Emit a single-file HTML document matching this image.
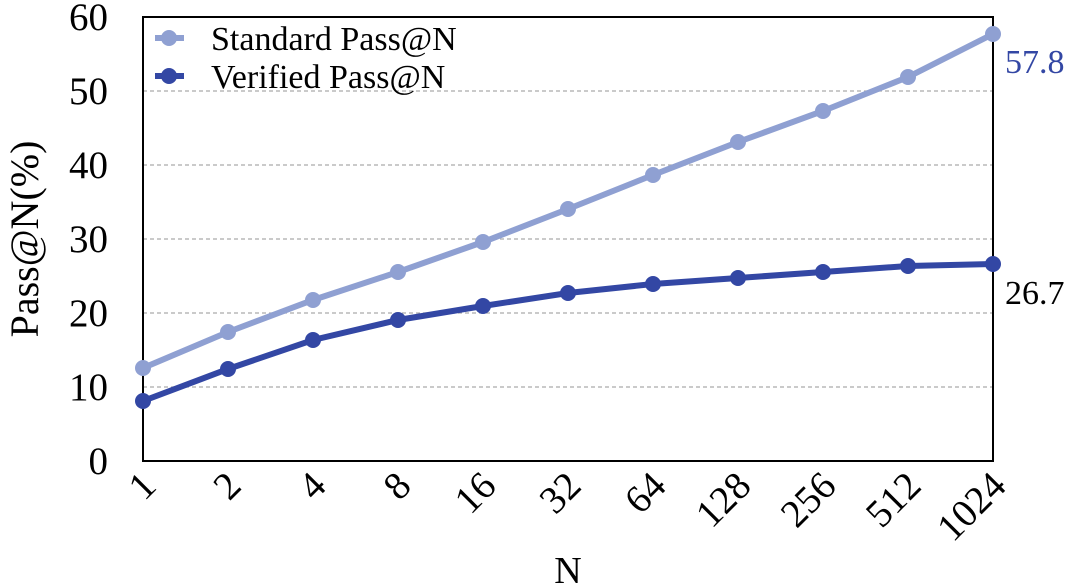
<!DOCTYPE html><html><head><style>body{margin:0;background:#fff}</style></head><body>
<svg width="1069" height="583" xmlns="http://www.w3.org/2000/svg" font-family="Liberation Serif, serif">
<g stroke="#aaa" stroke-width="1.2" stroke-dasharray="4,3">
<line x1="143" x2="993" y1="387" y2="387"/><line x1="143" x2="993" y1="313" y2="313"/><line x1="143" x2="993" y1="239" y2="239"/><line x1="143" x2="993" y1="165" y2="165"/><line x1="143" x2="993" y1="91" y2="91"/></g>
<rect x="143" y="17" width="850" height="444" fill="none" stroke="#000" stroke-width="2"/>
<g font-size="39" text-anchor="end" fill="#000">
<text x="108" y="474">0</text><text x="108" y="400">10</text><text x="108" y="326">20</text><text x="108" y="252">30</text><text x="108" y="178">40</text><text x="108" y="104">50</text><text x="108" y="30">60</text></g>
<text transform="translate(38,239) rotate(-90)" font-size="40" text-anchor="middle">Pass@N(%)</text>
<g font-size="39" text-anchor="end">
<text transform="translate(158,488) rotate(-45)">1</text><text transform="translate(243,488) rotate(-45)">2</text><text transform="translate(328,488) rotate(-45)">4</text><text transform="translate(413,488) rotate(-45)">8</text><text transform="translate(498,488) rotate(-45)">16</text><text transform="translate(583,488) rotate(-45)">32</text><text transform="translate(668,488) rotate(-45)">64</text><text transform="translate(753,488) rotate(-45)">128</text><text transform="translate(838,488) rotate(-45)">256</text><text transform="translate(923,488) rotate(-45)">512</text><text transform="translate(1008,488) rotate(-45)">1024</text></g>
<text x="568" y="583" font-size="38" text-anchor="middle">N</text>
<g stroke="#8fa0d2" fill="#8fa0d2" stroke-width="6">
<polyline fill="none" points="143,368 228,332 313,300 398,272 483,242 568,209 653,175 738,142 823,111 908,77 993,34"/>
<g stroke="none"><circle cx="143" cy="368" r="8"/><circle cx="228" cy="332" r="8"/><circle cx="313" cy="300" r="8"/><circle cx="398" cy="272" r="8"/><circle cx="483" cy="242" r="8"/><circle cx="568" cy="209" r="8"/><circle cx="653" cy="175" r="8"/><circle cx="738" cy="142" r="8"/><circle cx="823" cy="111" r="8"/><circle cx="908" cy="77" r="8"/><circle cx="993" cy="34" r="8"/></g>
<line x1="155" x2="184" y1="38" y2="38"/><circle cx="169" cy="38" r="8" stroke="none"/></g>
<g stroke="#3347a4" fill="#3347a4" stroke-width="6">
<polyline fill="none" points="143,401 228,369 313,340 398,320 483,306 568,293 653,284 738,278 823,272 908,266 993,264"/>
<g stroke="none"><circle cx="143" cy="401" r="8"/><circle cx="228" cy="369" r="8"/><circle cx="313" cy="340" r="8"/><circle cx="398" cy="320" r="8"/><circle cx="483" cy="306" r="8"/><circle cx="568" cy="293" r="8"/><circle cx="653" cy="284" r="8"/><circle cx="738" cy="278" r="8"/><circle cx="823" cy="272" r="8"/><circle cx="908" cy="266" r="8"/><circle cx="993" cy="264" r="8"/></g>
<line x1="155" x2="184" y1="76" y2="76"/><circle cx="169" cy="76" r="8" stroke="none"/></g>
<text x="211" y="50" font-size="34">Standard Pass@N</text>
<text x="211" y="88" font-size="34">Verified Pass@N</text>
<text x="1005" y="73" font-size="34" fill="#3347a4">57.8</text>
<text x="1005" y="304" font-size="34" fill="#000">26.7</text>
</svg></body></html>
